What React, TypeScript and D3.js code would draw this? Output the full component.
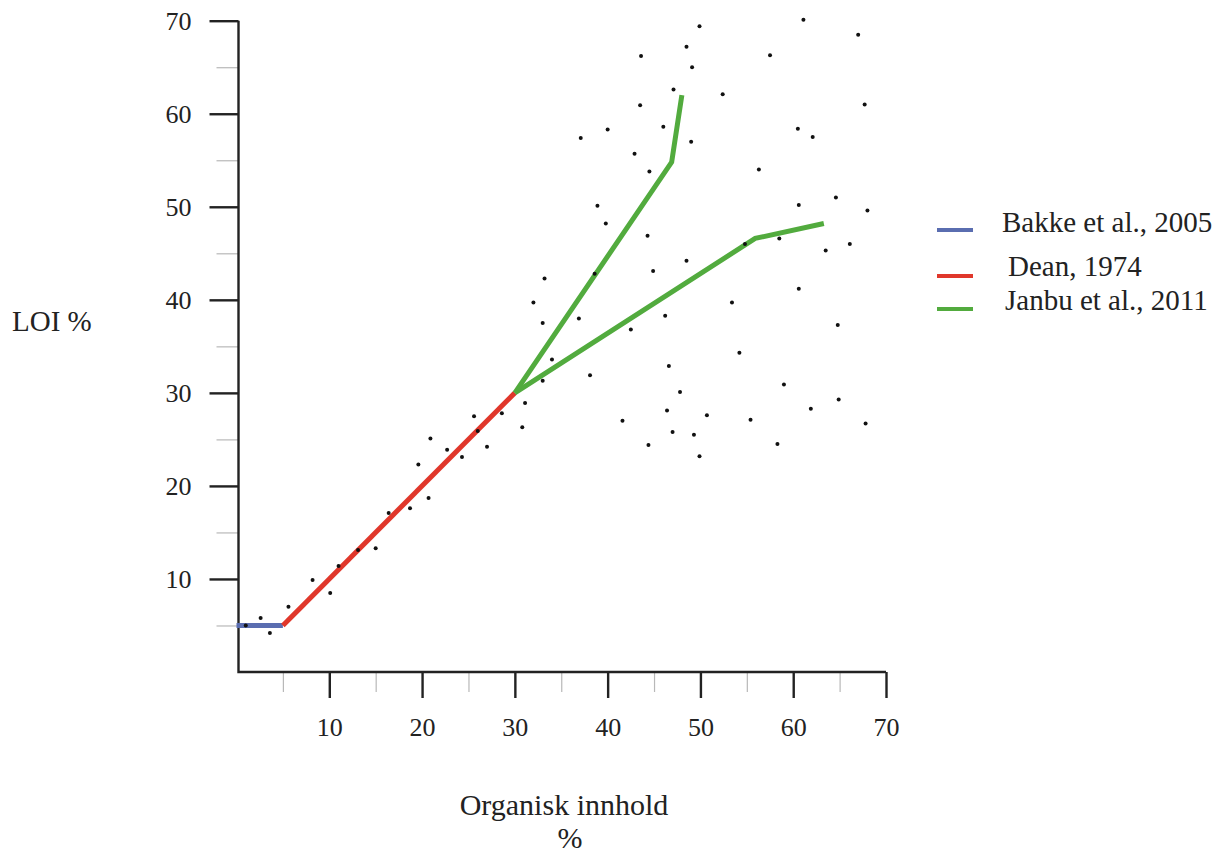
import React, { useEffect, useRef } from 'react';
import * as d3 from 'd3';

// scatter samples: organic content (%) vs LOI (%)
const sampleOrganic = [
  1.0, 2.6, 3.6, 5.6, 8.2, 10.1, 11.0, 13.1, 15.0, 16.4, 18.7, 20.7, 19.6, 20.9, 22.7, 24.3, 27.0,
  25.6, 26.0, 28.6, 30.8, 31.1, 33.0, 34.0, 38.1, 33.2, 32.0, 33.0, 36.9, 38.6, 42.5, 41.6, 44.4,
  44.3, 40.0, 37.1, 38.9, 39.8, 49.9, 48.5, 43.6, 49.1, 47.1, 43.5, 52.4, 46.0, 49.0, 42.9, 44.5,
  61.1, 67.0, 57.5, 67.7, 60.5, 62.1, 56.3, 64.6, 60.6, 68.0, 58.5, 54.8, 66.1, 63.5, 48.5, 44.9,
  60.6, 53.4, 46.2, 64.8, 54.2, 46.6, 47.8, 59.0, 64.9, 46.4, 50.7, 55.4, 61.9, 67.8, 47.0, 49.3,
  49.9, 58.3,
];
const sampleLoi = [
  5.0, 5.8, 4.2, 7.0, 9.9, 8.5, 11.4, 13.1, 13.3, 17.1, 17.6, 18.7, 22.3, 25.1, 23.9, 23.1, 24.2,
  27.5, 25.9, 27.8, 26.3, 28.9, 31.3, 33.6, 31.9, 42.3, 39.7, 37.5, 38.0, 42.8, 36.8, 27.0, 24.4,
  46.9, 58.3, 57.4, 50.1, 48.2, 69.4, 67.2, 66.2, 65.0, 62.6, 60.9, 62.1, 58.6, 57.0, 55.7, 53.8,
  70.1, 68.5, 66.3, 61.0, 58.4, 57.5, 54.0, 51.0, 50.2, 49.6, 46.6, 46.0, 46.0, 45.3, 44.2, 43.1,
  41.2, 39.7, 38.3, 37.3, 34.3, 32.9, 30.1, 30.9, 29.3, 28.1, 27.6, 27.1, 28.3, 26.7, 25.8, 25.5,
  23.2, 24.5,
];

// relationship lines
const bakkeX = [0, 5];
const bakkeY = [5, 5];
const deanX = [5, 30];
const deanY = [5, 30];
const janbuUpperX = [30, 46.9, 48];
const janbuUpperY = [30, 54.8, 62];
const janbuLowerX = [30, 55.9, 63.3];
const janbuLowerY = [30, 46.6, 48.2];

const majorTicks = [10, 20, 30, 40, 50, 60, 70];
const minorTicks = [5, 15, 25, 35, 45, 55, 65];

const legendNames = ['Bakke et al., 2005', 'Dean, 1974', 'Janbu et al., 2011'];
const legendColors = ['#5a6db0', '#e0372b', '#52ab3e'];

const FONT = '"Liberation Serif", "Times New Roman", serif';

export default function App() {
  const ref = useRef<SVGSVGElement>(null);

  useEffect(() => {
    const svg = d3.select(ref.current);
    svg.selectAll('*').remove();

    const x = d3.scaleLinear().domain([0, 70]).range([236.5, 886]);
    const y = d3.scaleLinear().domain([0, 70]).range([672, 20.7]);
    const axisX0 = 238.5;

    // minor ticks (grey)
    const minorY = svg.append('g').attr('transform', `translate(${axisX0},0)`)
      .call(d3.axisLeft(y).tickValues(minorTicks).tickSize(22).tickFormat(() => ''));
    minorY.select('.domain').remove();
    minorY.selectAll('line').attr('stroke', '#b8b8b8').attr('stroke-width', 1.2);

    const minorX = svg.append('g').attr('transform', `translate(0,${y(0)})`)
      .call(d3.axisBottom(x).tickValues(minorTicks).tickSize(20).tickFormat(() => ''));
    minorX.select('.domain').remove();
    minorX.selectAll('line').attr('stroke', '#b8b8b8').attr('stroke-width', 1.2);

    // major ticks
    const yAxis = svg.append('g').attr('transform', `translate(${axisX0},0)`)
      .call(d3.axisLeft(y).tickValues(majorTicks).tickSize(29).tickPadding(18).tickFormat(d3.format('d')));
    yAxis.select('.domain').remove();
    yAxis.selectAll('line').attr('stroke', '#222').attr('stroke-width', 2.4);
    yAxis.selectAll('text').attr('font-family', FONT).attr('font-size', 26).attr('fill', '#222');

    const xAxis = svg.append('g').attr('transform', `translate(0,${y(0)})`)
      .call(d3.axisBottom(x).tickValues(majorTicks).tickSize(26).tickPadding(20).tickFormat(d3.format('d')));
    xAxis.select('.domain').remove();
    xAxis.selectAll('line').attr('stroke', '#222').attr('stroke-width', 2.4);
    xAxis.selectAll('text').attr('font-family', FONT).attr('font-size', 26).attr('fill', '#222');

    // axis lines
    svg.append('path')
      .attr('d', `M${axisX0},${y(70)}V${y(0)}H${x(70)}`)
      .attr('fill', 'none').attr('stroke', '#222').attr('stroke-width', 2.4);

    // relationship lines
    const line = d3.line<[number, number]>().x(d => x(d[0])).y(d => y(d[1]));
    const series: [number[], number[], string][] = [
      [bakkeX, bakkeY, legendColors[0]],
      [deanX, deanY, legendColors[1]],
      [janbuUpperX, janbuUpperY, legendColors[2]],
      [janbuLowerX, janbuLowerY, legendColors[2]],
    ];
    series.forEach(([xs, ys, c]) => {
      svg.append('path')
        .datum(xs.map((v, i) => [v, ys[i]] as [number, number]))
        .attr('d', line)
        .attr('fill', 'none')
        .attr('stroke', c)
        .attr('stroke-width', 5);
    });

    // samples
    svg.append('g').selectAll('circle')
      .data(sampleOrganic.map((v, i) => [v, sampleLoi[i]]))
      .enter().append('circle')
      .attr('cx', d => x(d[0]))
      .attr('cy', d => y(d[1]))
      .attr('r', 2)
      .attr('fill', '#111');

    // legend
    const legendLineY = [230, 276, 309];
    const legendTextX = [1002, 1008, 1005];
    const legendTextY = [232, 276, 310];
    legendNames.forEach((name, i) => {
      svg.append('line')
        .attr('x1', 937).attr('x2', 973)
        .attr('y1', legendLineY[i]).attr('y2', legendLineY[i])
        .attr('stroke', legendColors[i]).attr('stroke-width', 4);
      svg.append('text')
        .attr('x', legendTextX[i]).attr('y', legendTextY[i])
        .attr('font-family', FONT).attr('font-size', 29).attr('fill', '#222')
        .text(name);
    });

    // axis titles
    svg.append('text')
      .attr('x', 12).attr('y', 331)
      .attr('font-family', FONT).attr('font-size', 29).attr('fill', '#222')
      .text('LOI %');
    svg.append('text')
      .attr('x', 564).attr('y', 815).attr('text-anchor', 'middle')
      .attr('font-family', FONT).attr('font-size', 30).attr('fill', '#222')
      .text('Organisk innhold');
    svg.append('text')
      .attr('x', 570).attr('y', 848).attr('text-anchor', 'middle')
      .attr('font-family', FONT).attr('font-size', 30).attr('fill', '#222')
      .text('%');
  }, []);

  return (
    <svg
      ref={ref}
      width={1230}
      height={854}
      style={{ position: 'absolute', left: 0, top: 0, background: '#fff' }}
    />
  );
}
